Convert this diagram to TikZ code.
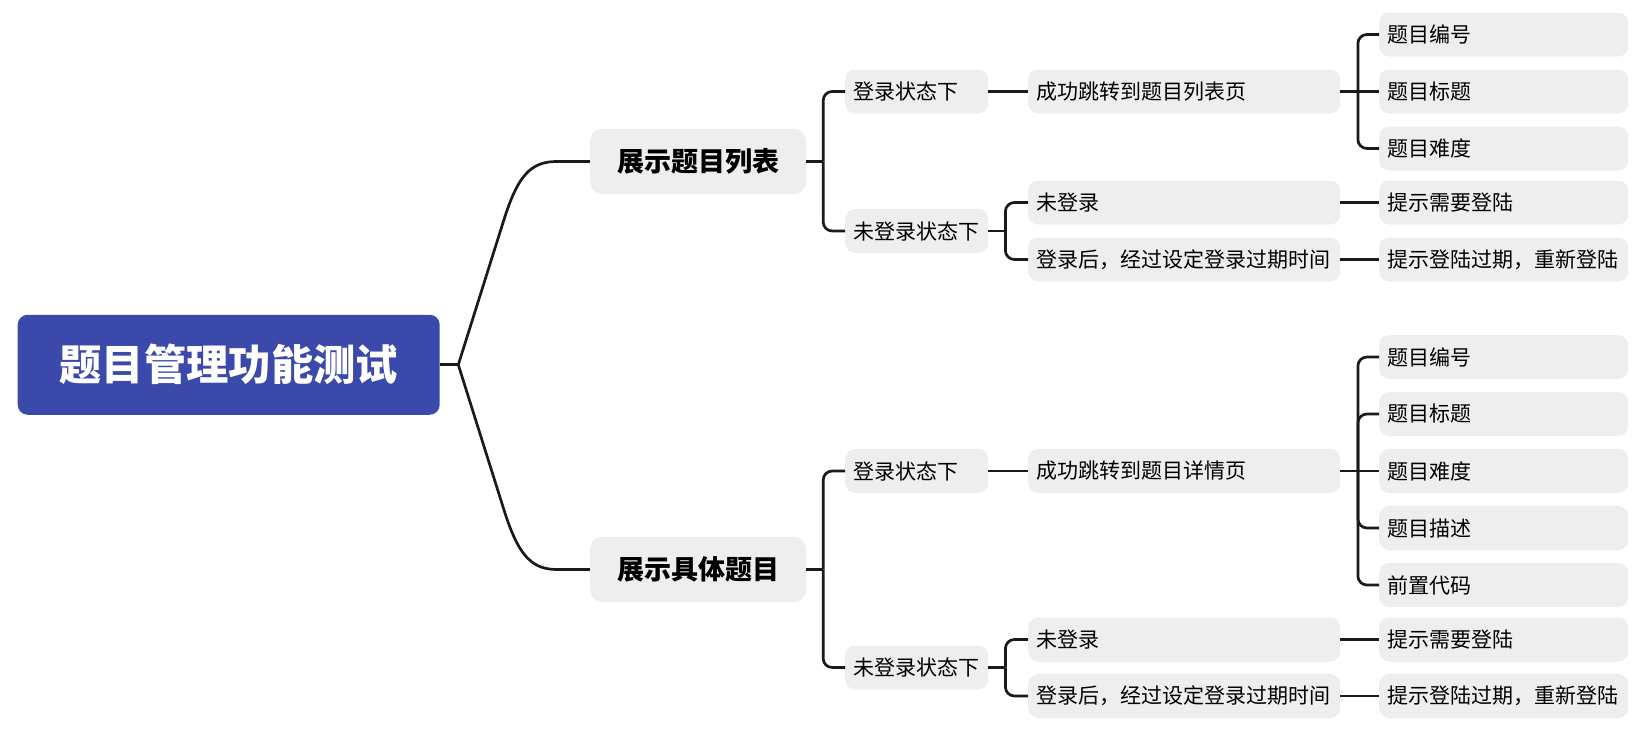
\documentclass[tikz,border=0pt]{standalone}
\usepackage{fontspec}
\setmainfont{Noto Sans CJK SC}
\definecolor{rootblue}{RGB}{59,74,170}
\definecolor{boxgray}{RGB}{238,238,238}
\definecolor{linedark}{RGB}{26,26,26}

\begin{document}
\begin{tikzpicture}[x=1pt,y=-1pt,
  every node/.style={inner sep=0pt,text=black},
  root/.style={fill=rootblue,rounded corners=10pt,minimum width=422pt,minimum height=100pt,text=white,font=\bfseries\fontsize{42.3}{48}\selectfont},
  topic/.style={fill=boxgray,rounded corners=12pt,minimum width=216pt,minimum height=65pt,font=\bfseries\fontsize{27}{31}\selectfont},
  sub/.style={fill=boxgray,rounded corners=10pt,anchor=west,minimum height=44pt,inner xsep=8pt,align=left,font=\fontsize{21}{24}\selectfont},
  state/.style={sub,text width=127pt},
  result/.style={sub,text width=296pt},
  item/.style={sub,text width=233pt},
  conn/.style={draw=linedark,line width=2.7pt}]
\useasboundingbox (0,0) rectangle (1641,736);

\node[root] (root) at (228.7,364.75) {题目管理功能测试};
\node[topic] (list) at (698,161.5) {展示题目列表};
\node[topic] (detail) at (698,569.5) {展示具体题目};

% second level
\node[state] (listIn) at (845,91.5) {登录状态下};
\node[state] (listOut) at (845,231) {未登录状态下};
\node[state] (detIn) at (845,471) {登录状态下};
\node[state] (detOut) at (845,667.5) {未登录状态下};

% third level
\node[result] (listPage) at (1028,91.5) {成功跳转到题目列表页};
\node[result] (listNo) at (1028,202.5) {未登录};
\node[result] (listExp) at (1028,259.5) {登录后，经过设定登录过期时间};
\node[result] (detPage) at (1028,471) {成功跳转到题目详情页};
\node[result] (detNo) at (1028,639.5) {未登录};
\node[result] (detExp) at (1028,696) {登录后，经过设定登录过期时间};

% leaves
\node[item] (lId) at (1379,34.5) {题目编号};
\node[item] (lTitle) at (1379,91.5) {题目标题};
\node[item] (lLevel) at (1379,148.5) {题目难度};
\node[item] (lNeed) at (1379,202.5) {提示需要登陆};
\node[item] (lExp) at (1379,259.5) {提示登陆过期，重新登陆};
\node[item] (dId) at (1379,357) {题目编号};
\node[item] (dTitle) at (1379,414) {题目标题};
\node[item] (dLevel) at (1379,471) {题目难度};
\node[item] (dDesc) at (1379,528) {题目描述};
\node[item] (dCode) at (1379,585) {前置代码};
\node[item] (dNeed) at (1379,639.5) {提示需要登陆};
\node[item] (dExp) at (1379,696) {提示登陆过期，重新登陆};

% junctions
\path (root.east) ++(18.4,0) coordinate (j0);
\path (list.west) ++(-33,0) coordinate (cl);
\path (detail.west) ++(-33,0) coordinate (cd);
\path (list.east) ++(17,0) coordinate (jl);
\path (detail.east) ++(17,0) coordinate (jd);
\path (listPage.east) ++(17.5,0) coordinate (jlp);
\path (detPage.east) ++(17.5,0) coordinate (jdp);
\path (listOut.east) ++(17,0) coordinate (jlo);
\path (detOut.east) ++(17,0) coordinate (jdo);

% root to topics
\draw[conn] (root.east) -- (j0);
\draw[conn] (j0) -- ++(45,-143) .. controls +(14,-45) and +(-27,0) .. (cl) -- (list.west);
\draw[conn] (j0) -- ++(45,143) .. controls +(14,45) and +(-27,0) .. (cd) -- (detail.west);

% topics to states
\draw[conn] (list.east) -- (jl);
\draw[conn,rounded corners=9pt] (jl) |- (listIn.west);
\draw[conn,rounded corners=9pt] (jl) |- (listOut.west);
\draw[conn] (detail.east) -- (jd);
\draw[conn,rounded corners=9pt] (jd) |- (detIn.west);
\draw[conn,rounded corners=9pt] (jd) |- (detOut.west);

% logged in
\draw[conn] (listIn.east) -- (listPage.west);
\draw[conn] (listPage.east) -- (jlp);
\draw[conn,rounded corners=9pt] (jlp) |- (lId.west);
\draw[conn] (jlp) -- (lTitle.west);
\draw[conn,rounded corners=9pt] (jlp) |- (lLevel.west);
\draw[conn] (detIn.east) -- (detPage.west);
\draw[conn] (detPage.east) -- (jdp);
\draw[conn,rounded corners=9pt] (jdp) |- (dId.west);
\draw[conn,rounded corners=9pt] (jdp) |- (dTitle.west);
\draw[conn] (jdp) -- (dLevel.west);
\draw[conn,rounded corners=9pt] (jdp) |- (dDesc.west);
\draw[conn,rounded corners=9pt] (jdp) |- (dCode.west);

% not logged in
\draw[conn] (listOut.east) -- (jlo);
\draw[conn,rounded corners=9pt] (jlo) |- (listNo.west);
\draw[conn,rounded corners=9pt] (jlo) |- (listExp.west);
\draw[conn] (listNo.east) -- (lNeed.west);
\draw[conn] (listExp.east) -- (lExp.west);
\draw[conn] (detOut.east) -- (jdo);
\draw[conn,rounded corners=9pt] (jdo) |- (detNo.west);
\draw[conn,rounded corners=9pt] (jdo) |- (detExp.west);
\draw[conn] (detNo.east) -- (dNeed.west);
\draw[conn] (detExp.east) -- (dExp.west);
\end{tikzpicture}
\end{document}
